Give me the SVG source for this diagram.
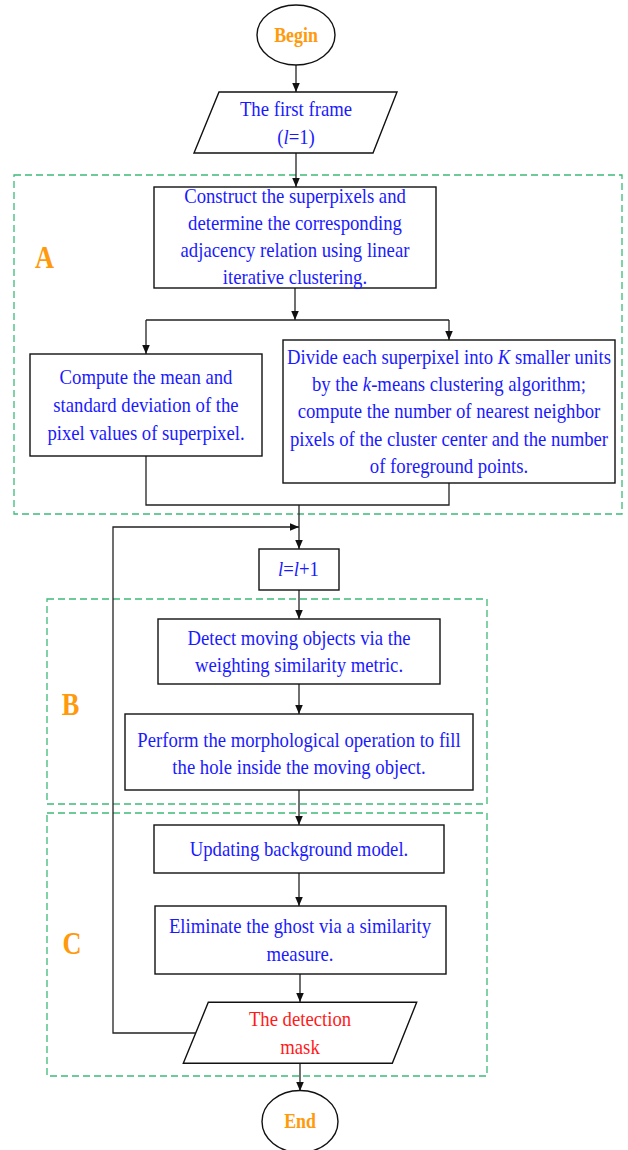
<svg xmlns="http://www.w3.org/2000/svg" width="628" height="1150" viewBox="0 0 628 1150">
<style>
.box{fill:#fff;stroke:#111;stroke-width:1.4}
.grp{fill:none;stroke:#3dbb78;stroke-width:1.3;stroke-dasharray:7 4}
.ln{fill:none;stroke:#222;stroke-width:1.3}
text{font-family:"Liberation Serif","Times New Roman",serif;text-anchor:middle}
.t{font-size:22px;fill:#1a1aff}
.r{font-size:22px;fill:#ff1a1a}
.o{font-size:21px;font-weight:bold;fill:#ff9a0d}
.L{font-size:31px;font-weight:bold;fill:#ff9a0d}
</style>
<defs>
<marker id="ah" viewBox="0 0 10 10" refX="10" refY="5" markerWidth="9" markerHeight="9" markerUnits="userSpaceOnUse" orient="auto">
<path d="M0,0.8 L10,5 L0,9.2 Z" fill="#111"/>
</marker>
</defs>
<g id="groups">
<rect class="grp" x="14" y="175" width="608" height="339"/>
<rect class="grp" x="47" y="599" width="440" height="205"/>
<rect class="grp" x="47" y="813" width="440" height="263"/>
<text class="L" transform="translate(44.5 268) scale(.85 1)">A</text>
<text class="L" transform="translate(70.5 715) scale(.85 1)">B</text>
<text class="L" transform="translate(72 954) scale(.85 1)">C</text>
</g>
<g id="connectors">
<line class="ln" x1="296" y1="65" x2="296" y2="92" marker-end="url(#ah)"/>
<line class="ln" x1="296" y1="153" x2="296" y2="187" marker-end="url(#ah)"/>
<line class="ln" x1="295" y1="288" x2="295" y2="320" marker-end="url(#ah)"/>
<line class="ln" x1="146" y1="320" x2="449" y2="320"/>
<line class="ln" x1="146" y1="320" x2="146" y2="354" marker-end="url(#ah)"/>
<line class="ln" x1="449" y1="320" x2="449" y2="340" marker-end="url(#ah)"/>
<polyline class="ln" points="146,456 146,505 449,505 449,483"/>
<line class="ln" x1="299" y1="505" x2="299" y2="549" marker-end="url(#ah)"/>
<polyline class="ln" points="195.7,1033 113,1033 113,527 299,527" marker-end="url(#ah)"/>
<line class="ln" x1="299" y1="590" x2="299" y2="619" marker-end="url(#ah)"/>
<line class="ln" x1="299" y1="684" x2="299" y2="714" marker-end="url(#ah)"/>
<line class="ln" x1="299" y1="790" x2="299" y2="825" marker-end="url(#ah)"/>
<line class="ln" x1="299" y1="873" x2="299" y2="906" marker-end="url(#ah)"/>
<line class="ln" x1="300" y1="974" x2="300" y2="1002" marker-end="url(#ah)"/>
<line class="ln" x1="300" y1="1063" x2="300" y2="1091" marker-end="url(#ah)"/>
</g>
<g id="begin">
<ellipse class="box" cx="296" cy="35" rx="39" ry="30"/>
<text class="o" transform="translate(296 42) scale(.85 1)">Begin</text>
</g>
<g id="first-frame">
<polygon class="box" points="219,92 397,92 373,153 194,153"/>
<text class="t" transform="translate(296 116) scale(.85 1)">The first frame</text>
<text class="t" transform="translate(296 144) scale(.85 1)">(<tspan font-style="italic">l</tspan>=1)</text>
</g>
<g id="construct">
<rect class="box" x="154" y="187" width="282" height="101"/>
<text class="t" transform="translate(295 203) scale(.85 1)">Construct the superpixels and</text>
<text class="t" transform="translate(295 230) scale(.85 1)">determine the corresponding</text>
<text class="t" transform="translate(295 257) scale(.85 1)">adjacency relation using linear</text>
<text class="t" transform="translate(295 284) scale(.85 1)">iterative clustering.</text>
</g>
<g id="compute">
<rect class="box" x="30" y="354" width="232" height="102"/>
<text class="t" transform="translate(146 384) scale(.85 1)">Compute the mean and</text>
<text class="t" transform="translate(146 412) scale(.85 1)">standard deviation of the</text>
<text class="t" transform="translate(146 440) scale(.85 1)">pixel values of superpixel.</text>
</g>
<g id="divide">
<rect class="box" x="283" y="340" width="332" height="143"/>
<text class="t" transform="translate(449 364) scale(.85 1)">Divide each superpixel into <tspan font-style="italic">K</tspan> smaller units</text>
<text class="t" transform="translate(449 391) scale(.85 1)">by the <tspan font-style="italic">k</tspan>-means clustering algorithm;</text>
<text class="t" transform="translate(449 418) scale(.85 1)">compute the number of nearest neighbor</text>
<text class="t" transform="translate(449 445.5) scale(.85 1)">pixels of the cluster center and the number</text>
<text class="t" transform="translate(449 472.5) scale(.85 1)">of foreground points.</text>
</g>
<g id="increment">
<rect class="box" x="259" y="549" width="80" height="41"/>
<text class="t" transform="translate(298.5 576) scale(.85 1)"><tspan font-style="italic">l</tspan>=<tspan font-style="italic">l</tspan>+1</text>
</g>
<g id="detect">
<rect class="box" x="158" y="619" width="282" height="65"/>
<text class="t" transform="translate(299 645) scale(.85 1)">Detect moving objects via the</text>
<text class="t" transform="translate(299 672) scale(.85 1)">weighting similarity metric.</text>
</g>
<g id="perform">
<rect class="box" x="125" y="714" width="348" height="76"/>
<text class="t" transform="translate(299 747) scale(.85 1)">Perform the morphological operation to fill</text>
<text class="t" transform="translate(299 773.5) scale(.85 1)">the hole inside the moving object.</text>
</g>
<g id="updating">
<rect class="box" x="154" y="825" width="290" height="48"/>
<text class="t" transform="translate(299 855.5) scale(.85 1)">Updating background model.</text>
</g>
<g id="eliminate">
<rect class="box" x="155" y="906" width="291" height="68"/>
<text class="t" transform="translate(300 933) scale(.85 1)">Eliminate the ghost via a similarity</text>
<text class="t" transform="translate(300 961) scale(.85 1)">measure.</text>
</g>
<g id="mask">
<polygon class="box" points="208.3,1002.3 416.7,1002.3 392.3,1063.3 183.3,1063.3"/>
<text class="r" transform="translate(300 1026) scale(.85 1)">The detection</text>
<text class="r" transform="translate(300 1054) scale(.85 1)">mask</text>
</g>
<g id="end">
<ellipse class="box" cx="300" cy="1121.5" rx="38" ry="31"/>
<text class="o" transform="translate(300 1128) scale(.85 1)">End</text>
</g>
</svg>
